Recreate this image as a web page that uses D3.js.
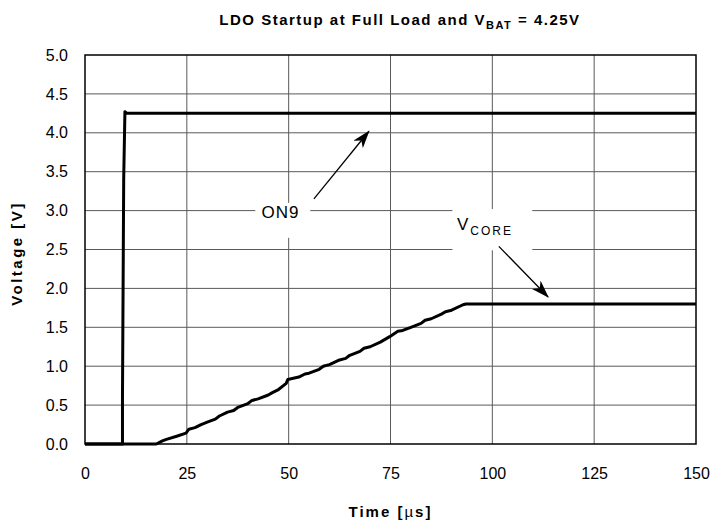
<!DOCTYPE html>
<meta charset="utf-8">
<style>
body { margin: 0; background: #fff; }
text { font-family: Arial, "Liberation Sans", sans-serif; fill: #000; }
</style>
<svg width="714" height="524"></svg>
<script src="https://d3js.org/d3.v7.min.js"></script>
<script>

var xTicks = [0, 25, 50, 75, 100, 125, 150];
var yTicks = [0, 0.5, 1, 1.5, 2, 2.5, 3, 3.5, 4, 4.5, 5];

// ON9 (time in us, voltage in V)
var on9Time = [0, 9.2, 9.2, 9.5, 9.8, 10.3, 150];
var on9Volt = [0, 0, 0.6, 3.4, 4.27, 4.25, 4.25];

// VCORE
var vcoreTime = [0, 17.5, 19, 20, 22.5, 24.8, 25.5, 27, 28.5, 30, 32, 33, 35, 36.5, 37.5, 40, 41, 42.5,
                 45, 46, 47.5, 49.4, 49.8, 52.5, 54, 55, 57.5, 58.5, 60, 62.5, 64, 65, 67.5, 68.5,
                 70, 72.5, 74.8, 76.8, 78, 80, 82.5, 83.5, 85, 87.5, 88.5, 90, 92.8, 93.5, 150];
var vcoreVolt = [0, 0, 0.04, 0.06, 0.1, 0.14, 0.19, 0.21, 0.25, 0.28, 0.32, 0.36, 0.41, 0.43, 0.47, 0.52, 0.56, 0.58,
                 0.63, 0.66, 0.7, 0.78, 0.83, 0.86, 0.9, 0.91, 0.96, 1.0, 1.02, 1.08, 1.1, 1.14, 1.19, 1.23,
                 1.25, 1.31, 1.38, 1.45, 1.46, 1.5, 1.55, 1.59, 1.61, 1.67, 1.7, 1.72, 1.79, 1.8, 1.8];

var svg = d3.select("svg"),
    margin = {top: 55, right: 18, bottom: 80, left: 85},
    width = +svg.attr("width") - margin.left - margin.right,
    height = +svg.attr("height") - margin.top - margin.bottom,
    g = svg.append("g").attr("transform", "translate(" + margin.left + "," + margin.top + ")");

var x = d3.scaleLinear().domain([0, 150]).range([0, width]);
var y = d3.scaleLinear().domain([0, 5]).range([height, 0]);

// grid
g.append("g")
    .selectAll("line")
    .data(xTicks.slice(1, -1))
    .join("line")
      .attr("x1", function(d) { return x(d); })
      .attr("x2", function(d) { return x(d); })
      .attr("y1", 0)
      .attr("y2", height)
      .attr("stroke", "#5a5a5a")
      .attr("stroke-width", 1);

g.append("g")
    .selectAll("line")
    .data(yTicks.slice(1, -1))
    .join("line")
      .attr("x1", 0)
      .attr("x2", width)
      .attr("y1", function(d) { return y(d); })
      .attr("y2", function(d) { return y(d); })
      .attr("stroke", "#5a5a5a")
      .attr("stroke-width", 1);

// axes (labels only, frame drawn separately)
var xAxis = g.append("g")
    .attr("transform", "translate(0," + height + ")")
    .call(d3.axisBottom(x).tickValues(xTicks).tickSize(0).tickPadding(24).tickFormat(d3.format("d")));
xAxis.select(".domain").remove();
xAxis.selectAll("text").attr("font-size", 16).attr("font-family", "Arial, 'Liberation Sans', sans-serif");

var yAxis = g.append("g")
    .call(d3.axisLeft(y).tickValues(yTicks).tickSize(0).tickPadding(17).tickFormat(d3.format(".1f")));
yAxis.select(".domain").remove();
yAxis.selectAll("text").attr("font-size", 16).attr("font-family", "Arial, 'Liberation Sans', sans-serif");

// annotation boxes (white, knock out the grid)
function box(x0, x1, v0, v1) {
  g.append("rect")
      .attr("x", x(x0)).attr("width", x(x1) - x(x0))
      .attr("y", y(v1)).attr("height", y(v0) - y(v1))
      .attr("fill", "#fff");
}
box(41.8, 55.3, 2.65, 3.1);
box(90.2, 109.8, 2.49, 3.02);

// frame
g.append("rect")
    .attr("width", width)
    .attr("height", height)
    .attr("fill", "none")
    .attr("stroke", "#000")
    .attr("stroke-width", 1.5);

// series
function series(t, v) {
  return t.map(function(d, i) { return {time: d, volt: v[i]}; });
}

var line = d3.line()
    .x(function(d) { return x(d.time); })
    .y(function(d) { return y(d.volt); });

[series(vcoreTime, vcoreVolt), series(on9Time, on9Volt)].forEach(function(data) {
  g.append("path")
      .datum(data)
      .attr("fill", "none")
      .attr("stroke", "#000")
      .attr("stroke-width", 3)
      .attr("stroke-linejoin", "round")
      .attr("d", line);
});

// arrows
svg.append("defs").append("marker")
    .attr("id", "head")
    .attr("markerUnits", "userSpaceOnUse")
    .attr("viewBox", "0 -6 18 12")
    .attr("refX", 17)
    .attr("refY", 0)
    .attr("markerWidth", 18)
    .attr("markerHeight", 12)
    .attr("orient", "auto")
  .append("path")
    .attr("d", "M0,-6L18,0L0,6L5,0Z")
    .attr("fill", "#000");

function arrow(t0, v0, t1, v1) {
  g.append("line")
      .attr("x1", x(t0)).attr("y1", y(v0))
      .attr("x2", x(t1)).attr("y2", y(v1))
      .attr("stroke", "#000")
      .attr("stroke-width", 1.3)
      .attr("marker-end", "url(#head)");
}
arrow(56.2, 3.15, 69.7, 4.02);
arrow(101.6, 2.54, 113.7, 1.89);

// labels
g.append("text")
    .attr("x", x(48))
    .attr("y", y(3.0) + 7)
    .attr("text-anchor", "middle")
    .attr("font-size", 17)
    .attr("letter-spacing", 1)
    .text("ON9");

var vc = g.append("text")
    .attr("x", x(91.3))
    .attr("y", y(2.5) - 20)
    .attr("font-size", 17);
vc.append("tspan").text("V");
vc.append("tspan")
    .attr("dy", 5)
    .attr("dx", 2)
    .attr("font-size", 12)
    .attr("letter-spacing", 2)
    .text("CORE");

// title
var title = svg.append("text")
    .attr("x", 400)
    .attr("y", 25)
    .attr("text-anchor", "middle")
    .attr("font-size", 15)
    .attr("font-weight", "bold")
    .attr("letter-spacing", 1.5);
title.append("tspan").text("LDO Startup at Full Load and V");
title.append("tspan").attr("dy", 4).attr("font-size", 11).text("BAT");
title.append("tspan").attr("dy", -4).text(" = 4.25V");

// axis titles
var xt = svg.append("text")
    .attr("x", margin.left + width / 2)
    .attr("y", 517)
    .attr("text-anchor", "middle")
    .attr("font-size", 15)
    .attr("font-weight", "bold")
    .attr("letter-spacing", 2);
xt.append("tspan").text("Time [");
xt.append("tspan").attr("font-weight", "normal").text("\u00b5");
xt.append("tspan").text("s]");

svg.append("text")
    .attr("transform", "translate(22," + (margin.top + height / 2 + 4) + ") rotate(-90)")
    .attr("text-anchor", "middle")
    .attr("font-size", 15)
    .attr("font-weight", "bold")
    .attr("letter-spacing", 2.5)
    .text("Voltage [V]");

</script>
